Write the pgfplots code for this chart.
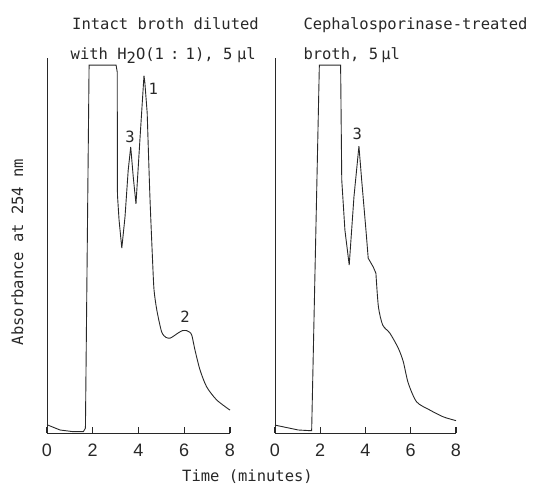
\documentclass[border=0pt]{standalone}
\usepackage{pgfplots}
\pgfplotsset{compat=1.18}
\usepackage{fontspec}
\setmainfont{DejaVu Sans Mono}
\newfontfamily\tickfont{Liberation Sans}
\definecolor{ink}{RGB}{40,40,40}

\pgfplotsset{chrom/.style={
  scale only axis, height=375pt,
  xmin=0, xmax=8, ymin=0, ymax=100,
  axis lines=left,
  axis line style={-, line width=0.9pt, ink},
  xtick={0,2,4,6,8}, ytick=\empty,
  tick align=inside, major tick length=6pt,
  major tick style={draw=ink, line width=1.1pt},
  /pgf/number format/assume math mode=true,
  xticklabel style={font=\tickfont\fontsize{18}{18}\selectfont, text=ink,
    anchor=base, yshift=-24pt},
  clip=false,
}}

\begin{document}
\begin{tikzpicture}
\path[use as bounding box] (0,0) rectangle (537pt,486pt);
\tikzset{every node/.append style={text=ink}}
\fontsize{15.5}{18}\selectfont

% left panel: intact broth
\begin{axis}[chrom, width=183pt, at={(47pt,53pt)}, anchor=south west]
\addplot[ink, line width=0.9pt] coordinates {
 (0,2.2) (0.57,0.8) (1.15,0.35) (1.59,0.35) (1.68,1.3) (1.84,98.1)
 (3.02,98.1) (3.07,96.3) (3.08,63.5) (3.15,56.8) (3.27,49.3)
 (3.41,57.6) (3.55,70.1) (3.66,76.3) (3.77,68.3) (3.89,61.1)
 (4.07,79.0) (4.24,95.3) (4.28,93.3) (4.38,85.3)};
\addplot[ink, line width=0.9pt, smooth, tension=0.45] coordinates {
 (4.38,85.3) (4.50,62.9)
 (4.62,45.3) (4.68,38.1) (4.80,32.8) (5.01,27.0) (5.20,25.5)
 (5.38,25.3) (5.55,25.9) (5.74,26.7) (5.92,27.3) (6.11,27.3)
 (6.23,26.9) (6.33,26.1) (6.47,22.1) (6.69,16.8) (6.98,12.3)
 (7.42,8.8) (8.0,6.1)};
\node at (axis cs:4.65,91.9) {1};
\node at (axis cs:3.63,78.9) {3};
\node at (axis cs:6.03,31.0) {2};
\end{axis}

% right panel: cephalosporinase-treated broth
\begin{axis}[chrom, width=181pt, at={(275pt,53pt)}, anchor=south west]
\addplot[ink, line width=0.9pt] coordinates {
 (0,2.1) (1.03,0.8) (1.62,0.6) (1.96,98.1) (2.90,98.1) (2.95,67.5)
 (3.09,54.1) (3.28,44.8) (3.49,63.0) (3.71,76.5) (3.83,67.5)
 (4.02,54.1) (4.12,46.6) (4.34,44.3) (4.46,42.6)};
\addplot[ink, line width=0.9pt, smooth, tension=0.45] coordinates {
 (4.46,42.6) (4.57,33.7)
 (4.76,28.8) (5.08,26.6) (5.45,22.6) (5.67,19.0) (5.89,13.3)
 (6.26,8.3) (6.85,6.1) (7.44,4.3) (8.0,3.3)};
\node at (axis cs:3.64,79.7) {3};
\end{axis}

\node[anchor=base west, inner sep=0pt] at (72pt,456pt) {Intact broth diluted};
\node[anchor=base west, inner sep=0pt] at (70.5pt,426pt)
  {with H\raisebox{-0.45ex}{2}O(1\hspace{0.4em}:\hspace{0.4em}1), 5\hspace{0.3em}µl};
\node[anchor=base west, inner sep=0pt] at (303.3pt,456pt) {Cephalosporinase-treated};
\node[anchor=base west, inner sep=0pt] at (303.3pt,426pt) {broth, 5\hspace{0.2em}µl};
\node[rotate=90, anchor=base, inner sep=0pt] at (23pt,234pt) {Absorbance at 254 nm};
\node[anchor=base, inner sep=0pt] at (247.5pt,4pt) {Time (minutes)};
\end{tikzpicture}
\end{document}
